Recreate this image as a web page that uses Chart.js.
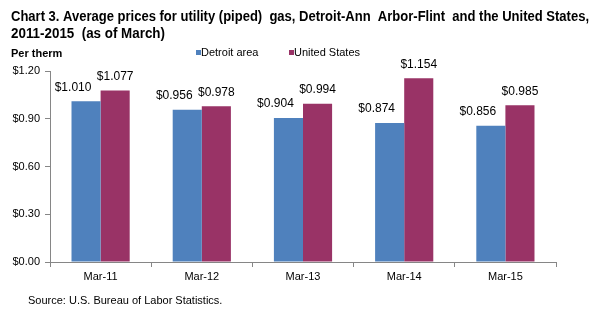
<!DOCTYPE html>
<html lang="en">
<head>
<meta charset="UTF-8" />
<title>Chart 3. Average prices for utility (piped) gas</title>
<style>
  html, body { margin: 0; padding: 0; background: #fff; }
  #wrap { position: relative; width: 598px; height: 323px; }
</style>
</head>
<body>
<div id="wrap"><canvas id="chart" width="598" height="323"></canvas></div>

<script src="https://cdn.jsdelivr.net/npm/chart.js"></script>
<script>
const months = ['Mar-11', 'Mar-12', 'Mar-13', 'Mar-14', 'Mar-15'];
const detroit = [1.010, 0.956, 0.904, 0.874, 0.856];
const usa = [1.077, 0.978, 0.994, 1.154, 0.985];
const yTicks = [0, 0.3, 0.6, 0.9, 1.2];

const titleLines = [
  'Chart 3. Average prices for utility (piped)  gas, Detroit-Ann  Arbor-Flint  and the United States,',
  '2011-2015  (as of March)'
];

const FONT = '"Liberation Sans", Arial, sans-serif';

// titles, legend, source and the value labels
const textPlugin = {
  id: 'texts',
  afterDatasetsDraw(chart) {
    const ctx = chart.ctx;
    ctx.save();
    ctx.fillStyle = '#000';
    ctx.textBaseline = 'alphabetic';
    ctx.textAlign = 'left';
    ctx.font = 'bold 14px ' + FONT;
    ctx.fillText(titleLines[0], 11, 21, 578);
    ctx.fillText(titleLines[1], 11, 38, 154);

    ctx.font = 'bold 11px ' + FONT;
    ctx.fillText('Per therm', 11, 57, 52);

    // legend
    ctx.font = '11px ' + FONT;
    ctx.textBaseline = 'middle';
    chart.data.datasets.forEach((ds, i) => {
      const x = i === 0 ? 196 : 289;
      ctx.fillStyle = ds.backgroundColor;
      ctx.fillRect(x, 50, 5, 5);
      ctx.fillStyle = '#000';
      ctx.fillText(ds.label, x + 5, 53);
    });

    ctx.textBaseline = 'alphabetic';
    ctx.fillText('Source: U.S. Bureau of Labor Statistics.', 28, 304);

    // value labels (Detroit labels sit a little to the left, as in the original)
    ctx.font = '12px ' + FONT;
    ctx.textAlign = 'center';
    ctx.textBaseline = 'middle';
    chart.data.datasets.forEach((ds, i) => {
      const shift = i === 0 ? -13 : 0;
      chart.getDatasetMeta(i).data.forEach((bar, j) => {
        ctx.fillText('$' + ds.data[j].toFixed(3), bar.x + shift, bar.y - 14);
      });
    });
    ctx.restore();
  }
};

new Chart(document.getElementById('chart'), {
  type: 'bar',
  data: {
    labels: months,
    datasets: [
      { label: 'Detroit area', data: detroit, backgroundColor: '#4F81BD' },
      { label: 'United States', data: usa, backgroundColor: '#993366' }
    ]
  },
  options: {
    responsive: false,
    animation: false,
    events: [],
    layout: { padding: { top: 71, right: 42, bottom: 0, left: 0 } },
    plugins: { legend: { display: false }, tooltip: { enabled: false } },
    datasets: { bar: { categoryPercentage: 0.575, barPercentage: 1 } },
    scales: {
      x: {
        grid: { drawOnChartArea: false, offset: true, tickLength: 5, color: '#868686' },
        border: { color: '#868686', width: 1 },
        ticks: { color: '#000', font: { family: FONT, size: 11 }, padding: 3, maxRotation: 0 },
        afterFit(scale) { scale.height = 61; }
      },
      y: {
        min: 0,
        max: 1.2,
        afterBuildTicks(scale) { scale.ticks = yTicks.map(v => ({ value: v })); },
        grid: { drawOnChartArea: false, tickLength: 5, color: '#868686' },
        border: { color: '#868686', width: 1 },
        ticks: {
          color: '#000',
          font: { family: FONT, size: 11 },
          padding: 5,
          callback: v => '$' + Number(v).toFixed(2)
        },
        afterFit(scale) { scale.width = 50; }
      }
    }
  },
  plugins: [textPlugin]
});
</script>
</body>
</html>
